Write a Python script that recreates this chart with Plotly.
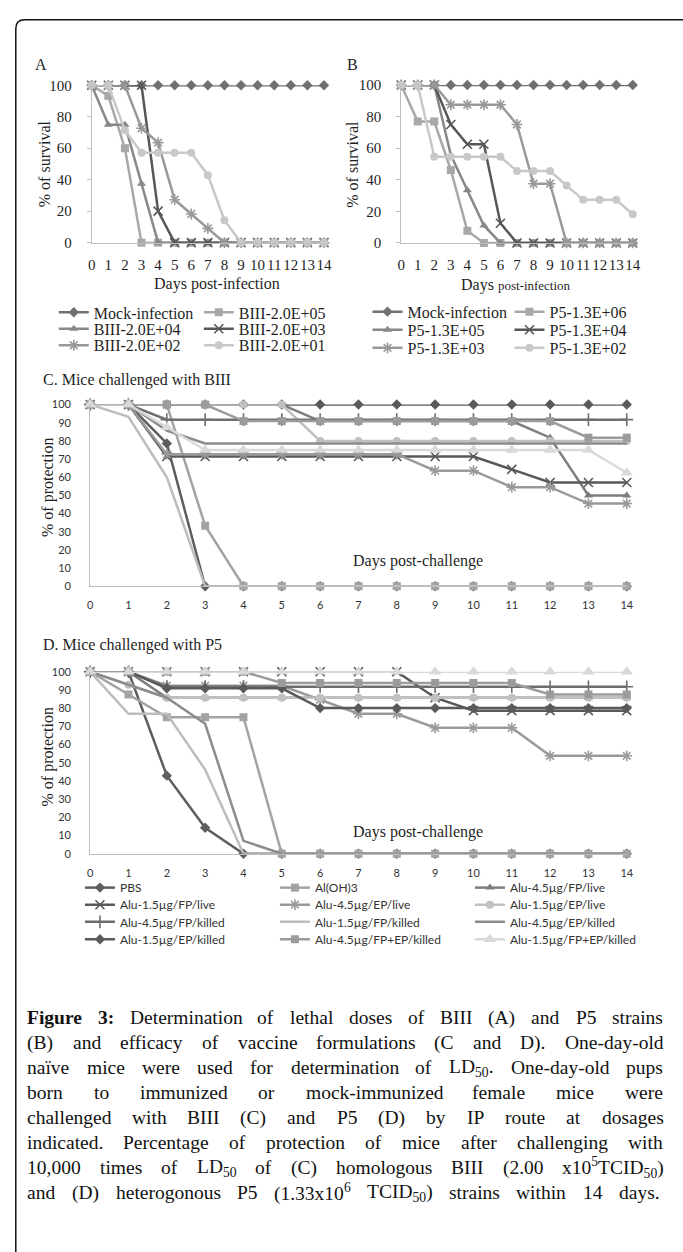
import re
import plotly.graph_objects as go

W, H = 683, 1252


def fx(p):
    return p / W


def fy(p):
    return 1 - p / H


days = [0, 1, 2, 3, 4, 5, 6, 7, 8, 9, 10, 11, 12, 13, 14]
day_labels = ["0", "1", "2", "3", "4", "5", "6", "7", "8", "9", "10", "11", "12", "13", "14"]

# ---------------- Panel A : BIII lethal dose ----------------
a_names = ["Mock-infection", "BIII-2.0E+05", "BIII-2.0E+04",
           "BIII-2.0E+03", "BIII-2.0E+02", "BIII-2.0E+01"]
a_mock = [100, 100, 100, 100, 100, 100, 100, 100, 100, 100, 100, 100, 100, 100, 100]
a_e05 = [100, 93.3, 60, 0, 0, 0, 0, 0, 0, 0, 0, 0, 0, 0, 0]
a_e04 = [100, 75, 75, 37.5, 0, 0, 0, 0, 0, 0, 0, 0, 0, 0, 0]
a_e03 = [100, 100, 100, 100, 20, 0, 0, 0, 0, 0, 0, 0, 0, 0, 0]
a_e02 = [100, 100, 100, 72.7, 63.6, 27.3, 18.2, 9.1, 0, 0, 0, 0, 0, 0, 0]
a_e01 = [100, 100, 71.4, 57.1, 57.1, 57.1, 57.1, 42.9, 14.3, 0, 0, 0, 0, 0, 0]

# ---------------- Panel B : P5 lethal dose ----------------
b_names = ["Mock-infection", "P5-1.3E+06", "P5-1.3E+05",
           "P5-1.3E+04", "P5-1.3E+03", "P5-1.3E+02"]
b_mock = [100, 100, 100, 100, 100, 100, 100, 100, 100, 100, 100, 100, 100, 100, 100]
b_e06 = [100, 76.9, 76.9, 46.2, 7.7, 0, 0, 0, 0, 0, 0, 0, 0, 0, 0]
b_e05 = [100, 100, 100, 55.6, 33.3, 11.1, 0, 0, 0, 0, 0, 0, 0, 0, 0]
b_e04 = [100, 100, 100, 75, 62.5, 62.5, 12.5, 0, 0, 0, 0, 0, 0, 0, 0]
b_e03 = [100, 100, 100, 87.5, 87.5, 87.5, 87.5, 75, 37.5, 37.5, 0, 0, 0, 0, 0]
b_e02 = [100, 100, 54.5, 54.5, 54.5, 54.5, 54.5, 45.5, 45.5, 45.5, 36.4, 27.3, 27.3, 27.3, 18.2]

# ---------------- Panels C / D : vaccine groups ----------------
cd_names = ["PBS", "Al(OH)3", "Alu-4.5µg/FP/live", "Alu-1.5µg/FP/live",
            "Alu-4.5µg/EP/live", "Alu-1.5µg/EP/live", "Alu-4.5µg/FP/killed",
            "Alu-1.5µg/FP/killed", "Alu-4.5µg/EP/killed", "Alu-1.5µg/EP/killed",
            "Alu-4.5µg/FP+EP/killed", "Alu-1.5µg/FP+EP/killed"]

c_pbs = [100, 100, 78.6, 0, 0, 0, 0, 0, 0, 0, 0, 0, 0, 0, 0]
c_aloh = [100, 100, 100, 33.3, 0, 0, 0, 0, 0, 0, 0, 0, 0, 0, 0]
c_45_fp_live = [100, 100, 100, 100, 100, 100, 90.9, 90.9, 90.9, 90.9, 90.9, 90.9, 81.8, 50, 50]
c_15_fp_live = [100, 100, 71.4, 71.4, 71.4, 71.4, 71.4, 71.4, 71.4, 71.4, 71.4, 64.3, 57.1, 57.1, 57.1]
c_45_ep_live = [100, 100, 72.7, 72.7, 72.7, 72.7, 72.7, 72.7, 72.7, 63.6, 63.6, 54.5, 54.5, 45.5, 45.5]
c_15_ep_live = [100, 100, 100, 100, 100, 100, 80, 80, 80, 80, 80, 80, 80, 80, 80]
c_45_fp_killed = [100, 100, 91.7, 91.7, 91.7, 91.7, 91.7, 91.7, 91.7, 91.7, 91.7, 91.7, 91.7, 91.7, 91.7]
c_15_fp_killed = [100, 93.3, 60, 0, 0, 0, 0, 0, 0, 0, 0, 0, 0, 0, 0]
c_45_ep_killed = [100, 100, 85.7, 78.6, 78.6, 78.6, 78.6, 78.6, 78.6, 78.6, 78.6, 78.6, 78.6, 78.6, 78.6]
c_15_ep_killed = [100, 100, 100, 100, 100, 100, 100, 100, 100, 100, 100, 100, 100, 100, 100]
c_45_fpep_killed = [100, 100, 100, 100, 90.9, 90.9, 90.9, 90.9, 90.9, 90.9, 90.9, 90.9, 90.9, 81.8, 81.8]
c_15_fpep_killed = [100, 100, 87.5, 75, 75, 75, 75, 75, 75, 75, 75, 75, 75, 75, 62.5]

d_pbs = [100, 100, 42.9, 14.3, 0, 0, 0, 0, 0, 0, 0, 0, 0, 0, 0]
d_aloh = [100, 87.5, 75, 75, 75, 0, 0, 0, 0, 0, 0, 0, 0, 0, 0]
d_45_fp_live = [100, 100, 85.7, 85.7, 85.7, 85.7, 85.7, 85.7, 85.7, 85.7, 85.7, 85.7, 85.7, 85.7, 85.7]
d_15_fp_live = [100, 100, 100, 100, 100, 100, 100, 100, 100, 85.7, 78.6, 78.6, 78.6, 78.6, 78.6]
d_45_ep_live = [100, 100, 92.3, 92.3, 92.3, 92.3, 84.6, 76.9, 76.9, 69.2, 69.2, 69.2, 53.8, 53.8, 53.8]
d_15_ep_live = [100, 92.9, 85.7, 85.7, 85.7, 85.7, 85.7, 85.7, 85.7, 85.7, 85.7, 85.7, 85.7, 85.7, 85.7]
d_45_fp_killed = [100, 100, 91.7, 91.7, 91.7, 91.7, 91.7, 91.7, 91.7, 91.7, 91.7, 91.7, 91.7, 91.7, 91.7]
d_15_fp_killed = [100, 76.9, 76.9, 46.2, 0, 0, 0, 0, 0, 0, 0, 0, 0, 0, 0]
d_45_ep_killed = [100, 92.9, 85.7, 71.4, 7.1, 0, 0, 0, 0, 0, 0, 0, 0, 0, 0]
d_15_ep_killed = [100, 100, 90.9, 90.9, 90.9, 90.9, 80, 80, 80, 80, 80, 80, 80, 80, 80]
d_45_fpep_killed = [100, 100, 100, 100, 100, 93.8, 93.8, 93.8, 93.8, 93.8, 93.8, 93.8, 87.5, 87.5, 87.5]
d_15_fpep_killed = [100, 100, 100, 100, 100, 100, 100, 100, 100, 100, 100, 100, 100, 100, 100]

caption_lines = [
    "<b>Figure</b> <b>3:</b> Determination of lethal doses of BIII (A) and P5 strains",
    "(B) and efficacy of vaccine formulations (C and D). One-day-old",
    "naïve mice were used for determination of LD<sub>50</sub>. One-day-old pups",
    "born to immunized or mock-immunized female mice were",
    "challenged with BIII (C) and P5 (D) by IP route at dosages",
    "indicated. Percentage of protection of mice after challenging with",
    "10,000 times of LD<sub>50</sub> of (C) homologous BIII (2.00 x10<sup>5</sup>TCID<sub>50</sub>)",
    "and (D) heterogonous P5 (1.33x10<sup>6</sup> TCID<sub>50</sub>) strains within 14 days.",
]

# ---------------- styles ----------------
SERIF = "Liberation Serif, Times New Roman, serif"
SANS = "Lato, Liberation Sans, sans-serif"
INK = "#1f1f1f"
AXC = "#bdbdbd"

ab_styles = [("diamond", "#707070"), ("square", "#a8a8a8"), ("triangle-up", "#888888"),
             ("x-thin-open", "#575757"), ("asterisk-open", "#999999"), ("circle", "#c8c8c8")]
cd_styles = [("diamond", "#5e5e5e"), ("square", "#a3a3a3"), ("triangle-up", "#7d7d7d"),
             ("x-thin-open", "#595959"), ("asterisk-open", "#9a9a9a"), ("circle", "#c0c0c0"),
             ("cross-thin-open", "#6e6e6e"), (None, "#bdbdbd"), (None, "#8c8c8c"),
             ("diamond", "#5a5a5a"), ("square", "#9b9b9b"), ("triangle-up", "#d9d9d9")]
cd_msize = [8, 8, 8, 8, 8, 8, 8, 8, 8, 8, 8, 11]

fig = go.Figure()


def add_series(name, y, style, xa, ya, legend, showlegend, msize=8, lw=2.5):
    symbol, color = style
    if symbol is None:
        mode = "lines"
        marker = dict(color=color)
    else:
        mode = "lines+markers"
        thin = symbol.endswith("-open")
        marker = dict(symbol=symbol, size=msize + (1 if thin else 0), color=color,
                      line=dict(width=1.6 if thin else 0, color=color))
    fig.add_trace(go.Scatter(x=days, y=y, name=name, mode=mode,
                             line=dict(color=color, width=lw), marker=marker,
                             xaxis=xa, yaxis=ya, legend=legend, showlegend=showlegend,
                             cliponaxis=False, hoverinfo="skip"))


a_data = [a_mock, a_e05, a_e04, a_e03, a_e02, a_e01]
a_leg = ["legend", "legend", "legend2", "legend2", "legend3", "legend3"]
for n, yv, st, lg in zip(a_names, a_data, ab_styles, a_leg):
    add_series(n, yv, st, "x", "y", lg, True)

b_data = [b_mock, b_e06, b_e05, b_e04, b_e03, b_e02]
b_leg = ["legend4", "legend4", "legend5", "legend5", "legend6", "legend6"]
for n, yv, st, lg in zip(b_names, b_data, ab_styles, b_leg):
    add_series(n, yv, st, "x2", "y2", lg, True)

c_data = [c_pbs, c_aloh, c_45_fp_live, c_15_fp_live, c_45_ep_live, c_15_ep_live,
          c_45_fp_killed, c_15_fp_killed, c_45_ep_killed, c_15_ep_killed,
          c_45_fpep_killed, c_15_fpep_killed]
# drawing order for panel C (later = on top); this panel shares panel D's legend
c_order = [9, 0, 1, 2, 3, 4, 5, 6, 7, 8, 10, 11]
for k in c_order:
    add_series(cd_names[k], c_data[k], cd_styles[k], "x3", "y3", "legend7", False,
               msize=cd_msize[k])

d_data = [d_pbs, d_aloh, d_45_fp_live, d_15_fp_live, d_45_ep_live, d_15_ep_live,
          d_45_fp_killed, d_15_fp_killed, d_45_ep_killed, d_15_ep_killed,
          d_45_fpep_killed, d_15_fpep_killed]
d_leg = ["legend7", "legend7", "legend7", "legend8", "legend8", "legend8",
         "legend9", "legend9", "legend9", "legend10", "legend10", "legend10"]
# series 3 drawn first so that it sits beneath the others (legend row order is kept)
d_order = [3, 0, 1, 2, 4, 5, 6, 7, 8, 9, 10, 11]
for k in d_order:
    add_series(cd_names[k], d_data[k], cd_styles[k], "x4", "y4", d_leg[k], True,
               msize=cd_msize[k])


# ---------------- axes ----------------
def xaxis(left, right, anchor, font, standoff):
    return dict(domain=[fx(left), fx(right)], range=[0, 14], anchor=anchor,
                tickmode="array", tickvals=days, ticktext=day_labels, tickangle=0,
                showline=True, linecolor=AXC, linewidth=1, showgrid=False,
                zeroline=False, ticks="", tickfont=font, ticklabelstandoff=standoff,
                fixedrange=True)


def yaxis(top, bottom, anchor, dtick, font, standoff, ticks):
    return dict(domain=[fy(bottom), fy(top)], range=[0, 100], anchor=anchor,
                tickmode="linear", tick0=0, dtick=dtick,
                showline=True, linecolor=AXC, linewidth=1, showgrid=False,
                zeroline=False, ticks=ticks, ticklen=4, tickcolor=AXC,
                tickfont=font, ticklabelstandoff=standoff, fixedrange=True)


ab_tick = dict(family=SERIF, size=15, color=INK)
cd_tick = dict(family=SANS, size=11, color="#333333")

layout = dict(
    width=W, height=H, autosize=False,
    margin=dict(l=0, r=0, t=0, b=0),
    paper_bgcolor="white", plot_bgcolor="rgba(0,0,0,0)",
    showlegend=True,
    xaxis=xaxis(89.3, 325.7, "y", ab_tick, 8),
    yaxis=yaxis(78.3, 237.7, "x", 20, ab_tick, 12, "outside"),
    xaxis2=xaxis(404.3, 640, "y2", ab_tick, 8),
    yaxis2=yaxis(78, 238, "x2", 20, ab_tick, 12, "outside"),
    xaxis3=xaxis(87.7, 633.9, "y3", cd_tick, 9),
    yaxis3=yaxis(401.7, 585.7, "x3", 10, cd_tick, 16, ""),
    xaxis4=xaxis(87.7, 633.9, "y4", cd_tick, 9),
    yaxis4=yaxis(672.3, 856.7, "x4", 10, cd_tick, 16, ""),
)


def legend_row(x_text, y_row, entrywidth, font):
    return dict(x=fx(x_text - 40), y=fy(y_row), xanchor="left", yanchor="middle",
                orientation="h", entrywidth=entrywidth, entrywidthmode="pixels",
                font=font, bgcolor="rgba(0,0,0,0)", borderwidth=0,
                itemclick=False, itemdoubleclick=False)


ab_leg_font = dict(family=SERIF, size=16, color=INK)
cd_leg_font = dict(family=SANS, size=12, color="#333333")
layout["legend"] = legend_row(90.7, 308.3, 100, ab_leg_font)
layout["legend2"] = legend_row(90.7, 325, 100, ab_leg_font)
layout["legend3"] = legend_row(90.7, 341.7, 100, ab_leg_font)
layout["legend4"] = legend_row(410, 307.7, 97, ab_leg_font)
layout["legend5"] = legend_row(410, 326, 97, ab_leg_font)
layout["legend6"] = legend_row(410, 344.3, 97, ab_leg_font)
layout["legend7"] = legend_row(117.3, 891, 150, cd_leg_font)
layout["legend8"] = legend_row(117.3, 908.3, 150, cd_leg_font)
layout["legend9"] = legend_row(117.3, 925.7, 150, cd_leg_font)
layout["legend10"] = legend_row(117.3, 943.3, 150, cd_leg_font)

fig.update_layout(**layout)

# ---------------- text annotations ----------------
ann = []


def text_px(txt, x, y, size, family=SERIF, xanchor="center", angle=0, color=INK):
    ann.append(dict(text=txt, x=fx(x), y=fy(y), xref="paper", yref="paper",
                    xanchor=xanchor, yanchor="middle", showarrow=False,
                    textangle=angle, borderpad=0, borderwidth=0,
                    font=dict(family=family, size=size, color=color)))


text_px("A", 38, 57, 16)
text_px("B", 355, 57, 16)
text_px("% of survival", 42, 158, 16, angle=-90)
text_px("% of survival", 355, 158, 16, angle=-90)
text_px("Days post-infection", 216.7, 280, 16)
text_px("Days <span style='font-size:13px'>post-infection</span>", 521.5, 281, 16)
text_px("C. Mice challenged with BIII", 40, 377, 16, xanchor="left")
text_px("D. Mice challenged with P5", 40, 645, 16, xanchor="left")
text_px("% of protection", 45, 485, 16, angle=-90)
text_px("% of protection", 45, 758, 16, angle=-90)

ann.append(dict(text="Days post-challenge", x=8.56, y=14, xref="x3", yref="y3",
                showarrow=False, font=dict(family=SERIF, size=16, color=INK)))
ann.append(dict(text="Days post-challenge", x=8.56, y=11.8, xref="x4", yref="y4",
                showarrow=False, font=dict(family=SERIF, size=16, color=INK)))

# ---------------- justified caption (Times metrics) ----------------
TIMES = {' ': 250, '!': 333, '(': 333, ')': 333, ',': 250, '-': 333, '.': 250, '/': 278,
         ':': 278, ';': 278, 'A': 722, 'B': 667, 'C': 667, 'D': 722, 'E': 611, 'F': 556,
         'G': 722, 'H': 722, 'I': 333, 'J': 389, 'K': 722, 'L': 611, 'M': 889, 'N': 722,
         'O': 722, 'P': 556, 'Q': 722, 'R': 667, 'S': 556, 'T': 611, 'U': 722, 'V': 722,
         'W': 944, 'X': 722, 'Y': 722, 'Z': 611, 'a': 444, 'b': 500, 'c': 444, 'd': 500,
         'e': 444, 'f': 333, 'g': 500, 'h': 500, 'i': 278, 'j': 278, 'k': 500, 'l': 278,
         'm': 778, 'n': 500, 'o': 500, 'p': 500, 'q': 500, 'r': 333, 's': 389, 't': 278,
         'u': 500, 'v': 500, 'w': 722, 'x': 500, 'y': 500, 'z': 444, 'ï': 278}
TIMES_B = {'F': 611, 'i': 278, 'g': 500, 'u': 556, 'r': 444, 'e': 444, '3': 500, ':': 333}

CAP_SIZE = 19.5
CAP_LEFT = 23.5
CAP_TOP = 1023
CAP_STEP = 25.3


def word_width(word, size):
    total = 0.0
    for tag, inner, plain in re.findall(r"<(b|sub|sup)>(.*?)</\1>|([^<]+)", word):
        if plain:
            total += sum(TIMES.get(ch, 500) for ch in plain) * size / 1000
        elif tag == "b":
            total += sum(TIMES_B.get(ch, TIMES.get(ch, 500)) for ch in inner) * size / 1000
        else:
            total += sum(TIMES.get(ch, 500) for ch in inner) * size * 0.7 / 1000
    return total


for i, line in enumerate(caption_lines):
    words = line.split(" ")
    widths = [word_width(w, CAP_SIZE) for w in words]
    right = 667 if i == len(caption_lines) - 1 else 670
    gap = (right - CAP_LEFT - sum(widths)) / (len(words) - 1)
    x = CAP_LEFT
    y = CAP_TOP + CAP_STEP * i
    for w, wd in zip(words, widths):
        text_px(w, x, y, CAP_SIZE, xanchor="left", color="#111111")
        x += wd + gap

fig.update_layout(annotations=ann)

# frame (rounded top-left corner, continuing past the picture edges)
r = 9
path = (f"M {fx(12)},{fy(1262)} L {fx(12)},{fy(12 + r)} "
        f"Q {fx(12)},{fy(12)} {fx(12 + r)},{fy(12)} L {fx(700)},{fy(12)}")
fig.add_shape(type="path", path=path, xref="paper", yref="paper",
              line=dict(color="#111111", width=1.5))

fig.write_html("out.html",
               config={"displayModeBar": False, "staticPlot": True},
               post_script="document.body.style.margin='0';"
                           "document.body.style.overflow='hidden';")
